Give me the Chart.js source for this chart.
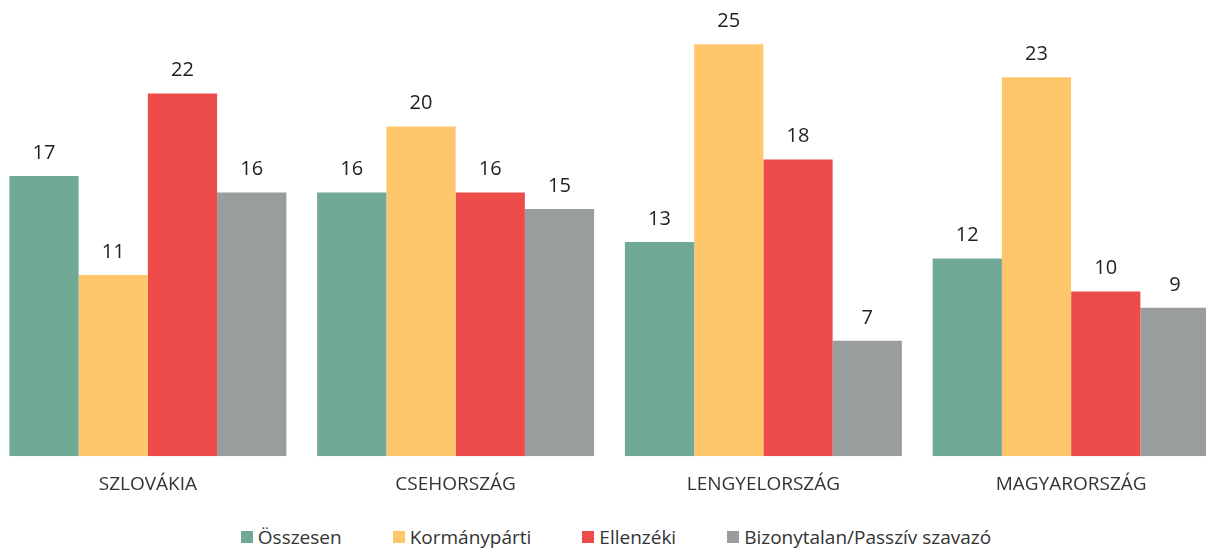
<!DOCTYPE html>
<html>
<head>
<meta charset="utf-8">
<script src="https://cdn.jsdelivr.net/npm/chart.js@4"></script>
<style>
  html, body { margin: 0; padding: 0; background: #fff; overflow: hidden; width: 1206px; height: 550px; }
  #wrap { position: absolute; left: -6px; top: 0; width: 1231px; height: 513px; }
  #legend {
    position: absolute; left: 0; top: 524px; width: 1232px;
    display: flex; justify-content: center; gap: 51px;
    font: 19px "Open Sans", "Noto Sans", sans-serif; color: #333;
  }
  #legend span.item { display: flex; align-items: center; }
  #legend i { display: inline-block; width: 12px; height: 12px; margin-right: 5px; }
</style>
</head>
<body>
<div id="wrap"><canvas id="chart"></canvas></div>
<div id="legend"></div>
<script>
// ── Data ────────────────────────────────────────────────────────────────────
const countries     = ['SZLOVÁKIA', 'CSEHORSZÁG', 'LENGYELORSZÁG', 'MAGYARORSZÁG'];
const osszesen      = [17, 16, 13, 12];
const kormanyparti  = [11, 20, 25, 23];
const ellenzeki     = [22, 16, 18, 10];
const bizonytalan   = [16, 15, 7, 9];

const FONT = '"Open Sans", "Noto Sans", sans-serif';

// value labels above each bar
const barLabels = {
  id: 'barLabels',
  afterDatasetsDraw(chart) {
    const { ctx } = chart;
    ctx.save();
    ctx.font = `20px ${FONT}`;
    ctx.fillStyle = '#222';
    ctx.textAlign = 'center';
    ctx.textBaseline = 'middle';
    chart.data.datasets.forEach((ds, i) => {
      chart.getDatasetMeta(i).data.forEach((bar, j) => {
        ctx.fillText(ds.data[j], bar.x, bar.y - 23);
      });
    });
    ctx.restore();
  }
};

const series = (label, data, color) => ({
  label, data, backgroundColor: color, borderWidth: 0,
  categoryPercentage: 0.9, barPercentage: 1.0
});

const chart = new Chart(document.getElementById('chart'), {
  type: 'bar',
  data: {
    labels: countries,
    datasets: [
      series('Összesen', osszesen, '#70a995'),
      series('Kormánypárti', kormanyparti, '#fec76c'),
      series('Ellenzéki', ellenzeki, '#ee4c4b'),
      series('Bizonytalan/Passzív szavazó', bizonytalan, '#9a9d9e'),
    ]
  },
  options: {
    responsive: true, maintainAspectRatio: false, animation: false,
    layout: { padding: { top: 0, bottom: 8, left: 0, right: 0 } },
    plugins: {
      tooltip: { enabled: false },
      legend: { display: false }
    },
    scales: {
      x: {
        grid: { display: false }, border: { display: false },
        ticks: { font: { family: FONT, size: 19 }, color: '#333', padding: 9 }
      },
      y: {
        display: false, min: 0, max: 27.68
      }
    }
  },
  plugins: [barLabels]
});

// ── Legend ──────────────────────────────────────────────────────────────────
const legendEl = document.getElementById('legend');
chart.data.datasets.forEach(ds => {
  legendEl.innerHTML += `<span class="item"><i style="background:${ds.backgroundColor}"></i>${ds.label}</span>`;
});
</script>
</body>
</html>
